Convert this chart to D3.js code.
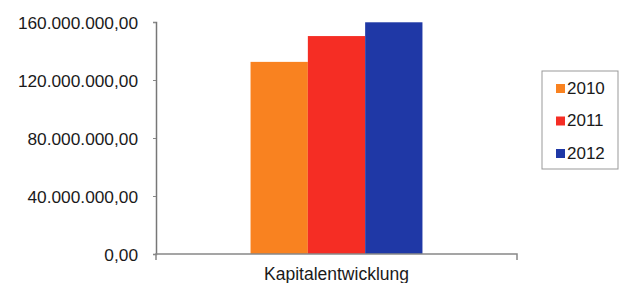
<!DOCTYPE html>
<html>
<head>
<meta charset="utf-8">
<script src="https://cdn.jsdelivr.net/npm/d3@7"></script>
<style>
  body { margin: 0; background: #fff; }
  svg text { font-family: "Liberation Sans", Arial, sans-serif; fill: #1a1a1a; }
</style>
</head>
<body>
<div id="chart"></div>
<script>
const categories = ["Kapitalentwicklung"];
const years = ["2010", "2011", "2012"];
const values = [132500000, 150300000, 159800000];
const colors = ["#f98220", "#f52d24", "#1f38a6"];
const yTicks = [0, 40000000, 80000000, 120000000, 160000000];

const width = 619, height = 283;
const margin = { left: 156, right: 102, top: 22, bottom: 29 };

const svg = d3.select('#chart').append('svg').attr('width', width).attr('height', height);

const x = d3.scaleBand().domain(categories).range([margin.left, width - margin.right]).paddingInner(0).paddingOuter(0);
const xInner = d3.scaleBand().domain(years).range([0, x.bandwidth()]).paddingOuter(1.65).paddingInner(0);
const y = d3.scaleLinear().domain([0, 160000000]).range([height - margin.bottom, margin.top]);

const fmt = d3.formatLocale({ decimal: ',', thousands: '.', grouping: [3], currency: ['', ''] }).format(',.2f');

// bars
const g = svg.append('g');
categories.forEach(c => {
  years.forEach((yr, i) => {
    g.append('rect')
      .attr('x', x(c) + xInner(yr))
      .attr('y', y(values[i]))
      .attr('width', xInner.bandwidth())
      .attr('height', y(0) - y(values[i]))
      .attr('fill', colors[i]);
  });
});

// y axis
const yAxis = svg.append('g').attr('transform', `translate(${margin.left},0)`)
  .call(d3.axisLeft(y).tickValues(yTicks).tickFormat(fmt).tickSize(3).tickPadding(15));
yAxis.select('.domain').attr('stroke', '#777').attr('stroke-width', 1.5);
yAxis.selectAll('.tick line').attr('stroke', '#888');
yAxis.selectAll('.tick text').style('font-size', '17.3px').attr('dy', '0.35em');

// x axis
const xAxis = svg.append('g').attr('transform', `translate(0,${y(0)})`)
  .call(d3.axisBottom(x).tickSize(0).tickPadding(14));
xAxis.select('.domain').attr('stroke', '#888').attr('stroke-width', 1.5).attr('d', `M${margin.left},6V0H${width - margin.right}V6`);
xAxis.selectAll('.tick text').style('font-size', '17.5px').attr('dy', '0.71em');

// legend
const legend = svg.append('g').attr('transform', 'translate(542,71)');
legend.append('rect').attr('width', 76).attr('height', 98).attr('fill', '#fff').attr('stroke', '#999').attr('stroke-width', 1);
years.forEach((yr, i) => {
  const row = legend.append('g').attr('transform', `translate(14,${17 + i * 32.5})`);
  row.append('rect').attr('x', 0).attr('y', -4).attr('width', 9).attr('height', 9).attr('fill', colors[i]);
  row.append('text').attr('x', 11).attr('y', 0).attr('dy', '0.35em').style('font-size', '17px').text(yr);
});
</script>
</body>
</html>
